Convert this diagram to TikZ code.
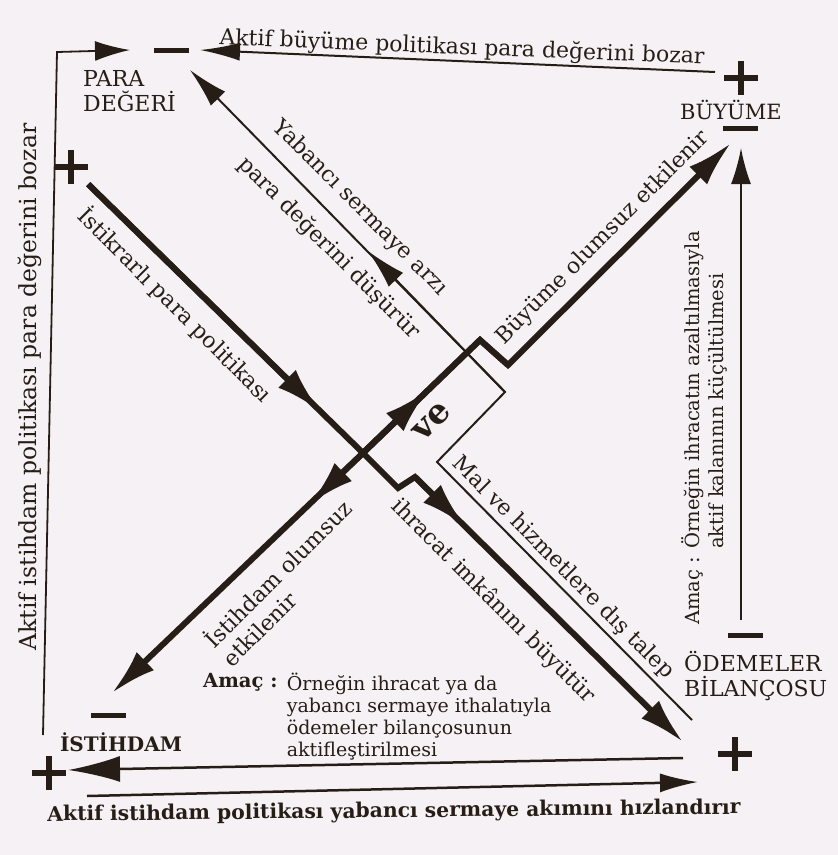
\documentclass[tikz,border=0pt]{standalone}
\usepackage{fontspec}
\setmainfont{DejaVu Serif}
\usetikzlibrary{arrows.meta,positioning}
\definecolor{ink}{RGB}{38,30,22}
\definecolor{paper}{RGB}{246,241,244}

\begin{document}
\begin{tikzpicture}[x=1pt, y=-1pt,
    every node/.style={text=ink, inner sep=0pt},
    fat/.style={draw=ink, line width=6pt},
    slim/.style={draw=ink, line width=2pt},
    bighd/.style={-{Latex[length=46pt,width=25pt]}},
    thinhd/.style={-{Latex[length=40pt,width=20pt]}},
    plussgn/.style={minimum size=34pt, path picture={\draw[ink, line width=6pt] (path picture bounding box.west) -- (path picture bounding box.east) (path picture bounding box.north) -- (path picture bounding box.south);}},
    minussgn/.style={fill=ink, minimum width=35pt, minimum height=5pt},
    lbl/.style={font=\fontsize{22}{24.5}\selectfont, align=left},
    diag/.style={font=\fontsize{22}{26}\selectfont},
    note/.style={font=\fontsize{19.5}{22}\selectfont, align=left}]
    \path[use as bounding box, fill=paper] (0,0) rectangle (838,855);

    \node[minussgn] (paraminus) at (171,50) {};
    \node[lbl, anchor=west] (paralbl) at (83,91) {PARA\\DEĞERİ};
    \node[plussgn] (bplus) at (741,78) {};
    \node[lbl, font=\fontsize{21}{24}\selectfont] (blbl) at (731,110) {BÜYÜME};
    \node[minussgn] (bminus) at (740,128) {};
    \node[minussgn] (ominus) at (745,635) {};
    \node[lbl, anchor=west] (olbl) at (684,676) {ÖDEMELER\\BİLANÇOSU};
    \node[plussgn] (oplus) at (735,754) {};
    \node[minussgn] (iminus) at (108,715) {};
    \node[lbl, font=\fontsize{20}{24}\selectfont\bfseries] (ilbl) at (121,742) {İSTİHDAM};
    \node[plussgn] (iplus) at (49,773) {};
    \node[plussgn] (lplus) at (71,167) {};

    \coordinate (lbot) at (43,735);
    \coordinate (lcorner) at (57,52);
    \coordinate (paraL) at (130,50);
    \coordinate (bstart) at (715,72);
    \coordinate (paraR) at (200,50);
    \coordinate (cross) at (363,453);
    \coordinate (pmid) at (320,411);
    \coordinate (jog1) at (398,488);
    \coordinate (jog2) at (415,477);
    \coordinate (pmid2) at (465,526);
    \coordinate (otip) at (683,742);
    \coordinate (itip) at (112,693);
    \coordinate (imid) at (310,504);
    \coordinate (bmid) at (428,390);
    \coordinate (kink1) at (480,340);
    \coordinate (kink2) at (508,365);
    \coordinate (btip) at (731,143);
    \coordinate (maltail) at (692,720);
    \coordinate (boxb) at (437,462);
    \coordinate (boxr) at (505,392);
    \coordinate (ymid) at (368,251);
    \coordinate (paratip) at (190,70);
    \coordinate (obot) at (741,620);
    \coordinate (otop) at (741,148);
    \coordinate (ustart) at (683,758);
    \coordinate (utip) at (68,770);
    \coordinate (lstart) at (87,796);
    \coordinate (ltip) at (698,782);

    % connectors
    \draw[slim, line width=1.8pt, -{Latex[length=35pt,width=20pt]}] (lbot) -- (lcorner) -- (paraL);
    \draw[slim, -{Latex[length=40pt,width=18pt]}] (bstart) -- (paraR);
    \draw[fat, bighd] (lplus.south east) -- (cross) -- (jog1) -- (jog2) -- (otip);
    \draw[fat, bighd] (lplus.south east) -- (pmid);
    \draw[fat, bighd] (jog2) -- (pmid2);
    \draw[fat, bighd] (kink2) -- (kink1) -- (cross) -- (itip);
    \draw[fat, bighd] (cross) -- (kink1) -- (kink2) -- (btip);
    \draw[fat, bighd] (cross) -- (imid);
    \draw[fat, bighd] (cross) -- (bmid);
    \draw[slim, thinhd] (maltail) -- (boxb) -- (boxr) -- (paratip);
    \draw[slim, thinhd] (boxr) -- (ymid);
    \draw[slim, -{Latex[length=36pt,width=20pt]}] (obot) -- (otop);
    \draw[ink, line width=2.5pt, -{Latex[length=52pt,width=26pt]}] (ustart) -- (utip);
    \draw[ink, line width=2.5pt, -{Latex[length=38pt,width=19pt]}] (lstart) -- (ltip);

    % labels
    \node[diag, rotate=-2.3] (toplbl) at (462,48) {Aktif büyüme politikası para değerini bozar};
    \node[diag, font=\fontsize{23.5}{26}\selectfont, rotate=90] (leftlbl) at (30,387) {Aktif istihdam politikası para değerini bozar};
    \node[diag, rotate=45] (buylbl) at (603,238) {Büyüme olumsuz etkilenir};
    \node[diag, rotate=-45] (yablbl) at (360,208) {Yabancı sermaye arzı};
    \node[diag, rotate=-45] (duslbl) at (329,248) {para değerini düşürür};
    \node[diag, rotate=-45] (istlbl) at (175,305) {İstikrarlı para politikası};
    \node[diag, rotate=45, align=left, anchor=west] (istihlbl) at (216,652) {İstihdam olumsuz\\etkilenir};
    \node[diag, rotate=-45] (ihrlbl) at (493,601) {ihracat imkânını büyütür};
    \node[diag, rotate=-45] (mallbl) at (563,568) {Mal ve hizmetlere dış talep};
    \node[font=\fontsize{34}{34}\selectfont\bfseries, rotate=45] (velbl) at (432,422) {ve};
    \node[note, rotate=90] (amac1) at (693,428) {Amaç : Örneğin ihracatın azaltılmasıyla};
    \node[note, rotate=90] (amac2) at (718,411) {aktif kalanının küçültülmesi};
    \node[note, font=\fontsize{19.5}{22}\selectfont\bfseries, anchor=north west] (amacb) at (203,673) {Amaç :};
    \node[note, font=\fontsize{19}{22}\selectfont, anchor=north west] (amactxt) at ([xshift=9pt]amacb.north east) {Örneğin ihracat ya da\\yabancı sermaye ithalatıyla\\ödemeler bilançosunun\\aktifleştirilmesi};
    \node[font=\fontsize{20.3}{24}\selectfont\bfseries, rotate=0.6] (botlbl) at (394,812) {Aktif istihdam politikası yabancı sermaye akımını hızlandırır};
\end{tikzpicture}
\end{document}
